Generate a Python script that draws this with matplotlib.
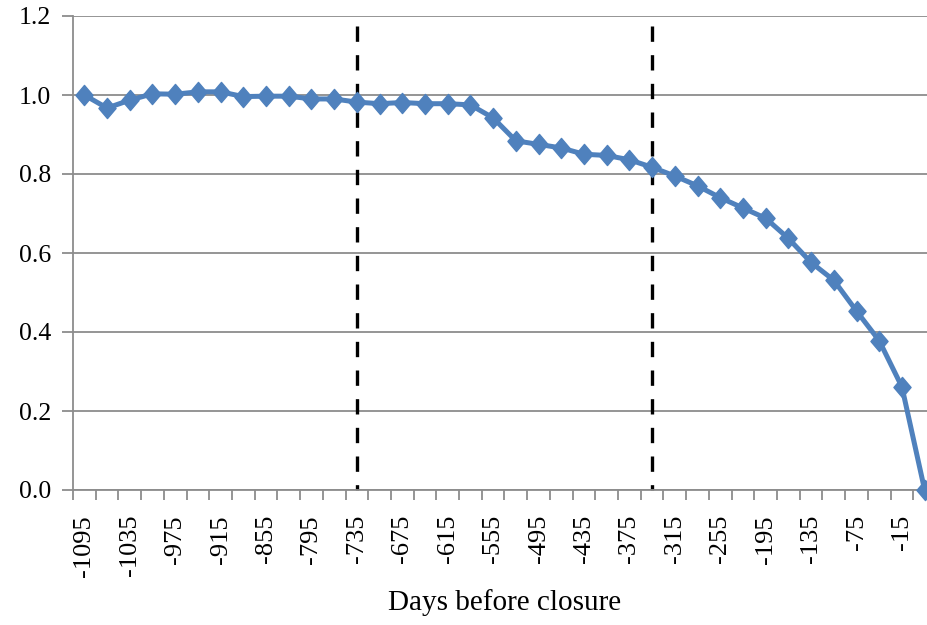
import matplotlib
matplotlib.use("Agg")
import matplotlib.pyplot as plt
import numpy as np
from matplotlib.path import Path

# days before closure (category axis, one point every 30 days, last point = closure)
days = [-1095, -1065, -1035, -1005, -975, -945, -915, -885, -855, -825,
        -795, -765, -735, -705, -675, -645, -615, -585, -555, -525,
        -495, -465, -435, -405, -375, -345, -315, -285, -255, -225,
        -195, -165, -135, -105, -75, -45, -15, 0]
ratio = [1.000, 0.967, 0.987, 1.003, 1.002, 1.008, 1.008, 0.996, 0.997, 0.997,
         0.990, 0.990, 0.982, 0.978, 0.981, 0.978, 0.978, 0.975, 0.942, 0.884,
         0.875, 0.866, 0.850, 0.847, 0.836, 0.817, 0.795, 0.770, 0.740, 0.714,
         0.688, 0.637, 0.576, 0.531, 0.453, 0.378, 0.261, 0.000]
marker_days = [-735, -345]   # dashed reference lines
marker_top = 1.175

plt.rcParams["font.family"] = ["Liberation Serif", "DejaVu Serif"]

fig = plt.figure(figsize=(9.28, 6.25), dpi=100)
ax = fig.add_axes([73 / 928, 1 - 490 / 625, (936 - 73) / 928, (490 - 16) / 625])

xs = np.arange(len(days))
grid_c = "#8c8c8c"

ax.set_ylim(0, 1.2)
ax.set_xlim(-0.5, len(days) - 0.5)
ax.set_yticks(np.arange(0, 1.21, 0.2))
ax.set_yticklabels([f"{v:.1f}" for v in np.arange(0, 1.21, 0.2)])
ax.yaxis.grid(True, color=grid_c, lw=1.3)
ax.set_axisbelow(True)

for d in marker_days:
    i = days.index(d)
    ax.plot([i, i], [marker_top, 0], color="black", lw=2.4,
            dashes=(4.6, 4), zorder=2, clip_on=False)

# slightly tall diamond, like the Excel marker
diamond = Path([(0, 1), (0.85, 0), (0, -1), (-0.85, 0), (0, 1)],
               [Path.MOVETO, Path.LINETO, Path.LINETO, Path.LINETO, Path.CLOSEPOLY])
ax.plot(xs, ratio, color="#4f81bd", lw=3.6, marker=diamond, ms=14.5,
        zorder=3, clip_on=False)

# labels on every other category, tick marks between categories
ax.set_xticks(xs[::2])
ax.set_xticklabels([str(d) for d in days[::2]], rotation=90)
ax.set_xticks(np.arange(-0.5, len(days), 1.0), minor=True)
ax.tick_params(axis="x", which="major", length=0, pad=18, labelsize=19)
ax.tick_params(axis="x", which="minor", length=7, width=1.3, color=grid_c)
ax.tick_params(axis="y", length=8, width=1.3, color=grid_c, pad=8, labelsize=18.5)

for side in ["top", "right"]:
    ax.spines[side].set_visible(False)
for side in ["left", "bottom"]:
    ax.spines[side].set_color(grid_c)
    ax.spines[side].set_linewidth(1.3)

ax.set_xlabel("Days before closure", fontsize=21, labelpad=9)

fig.savefig("out.png", dpi=100)
